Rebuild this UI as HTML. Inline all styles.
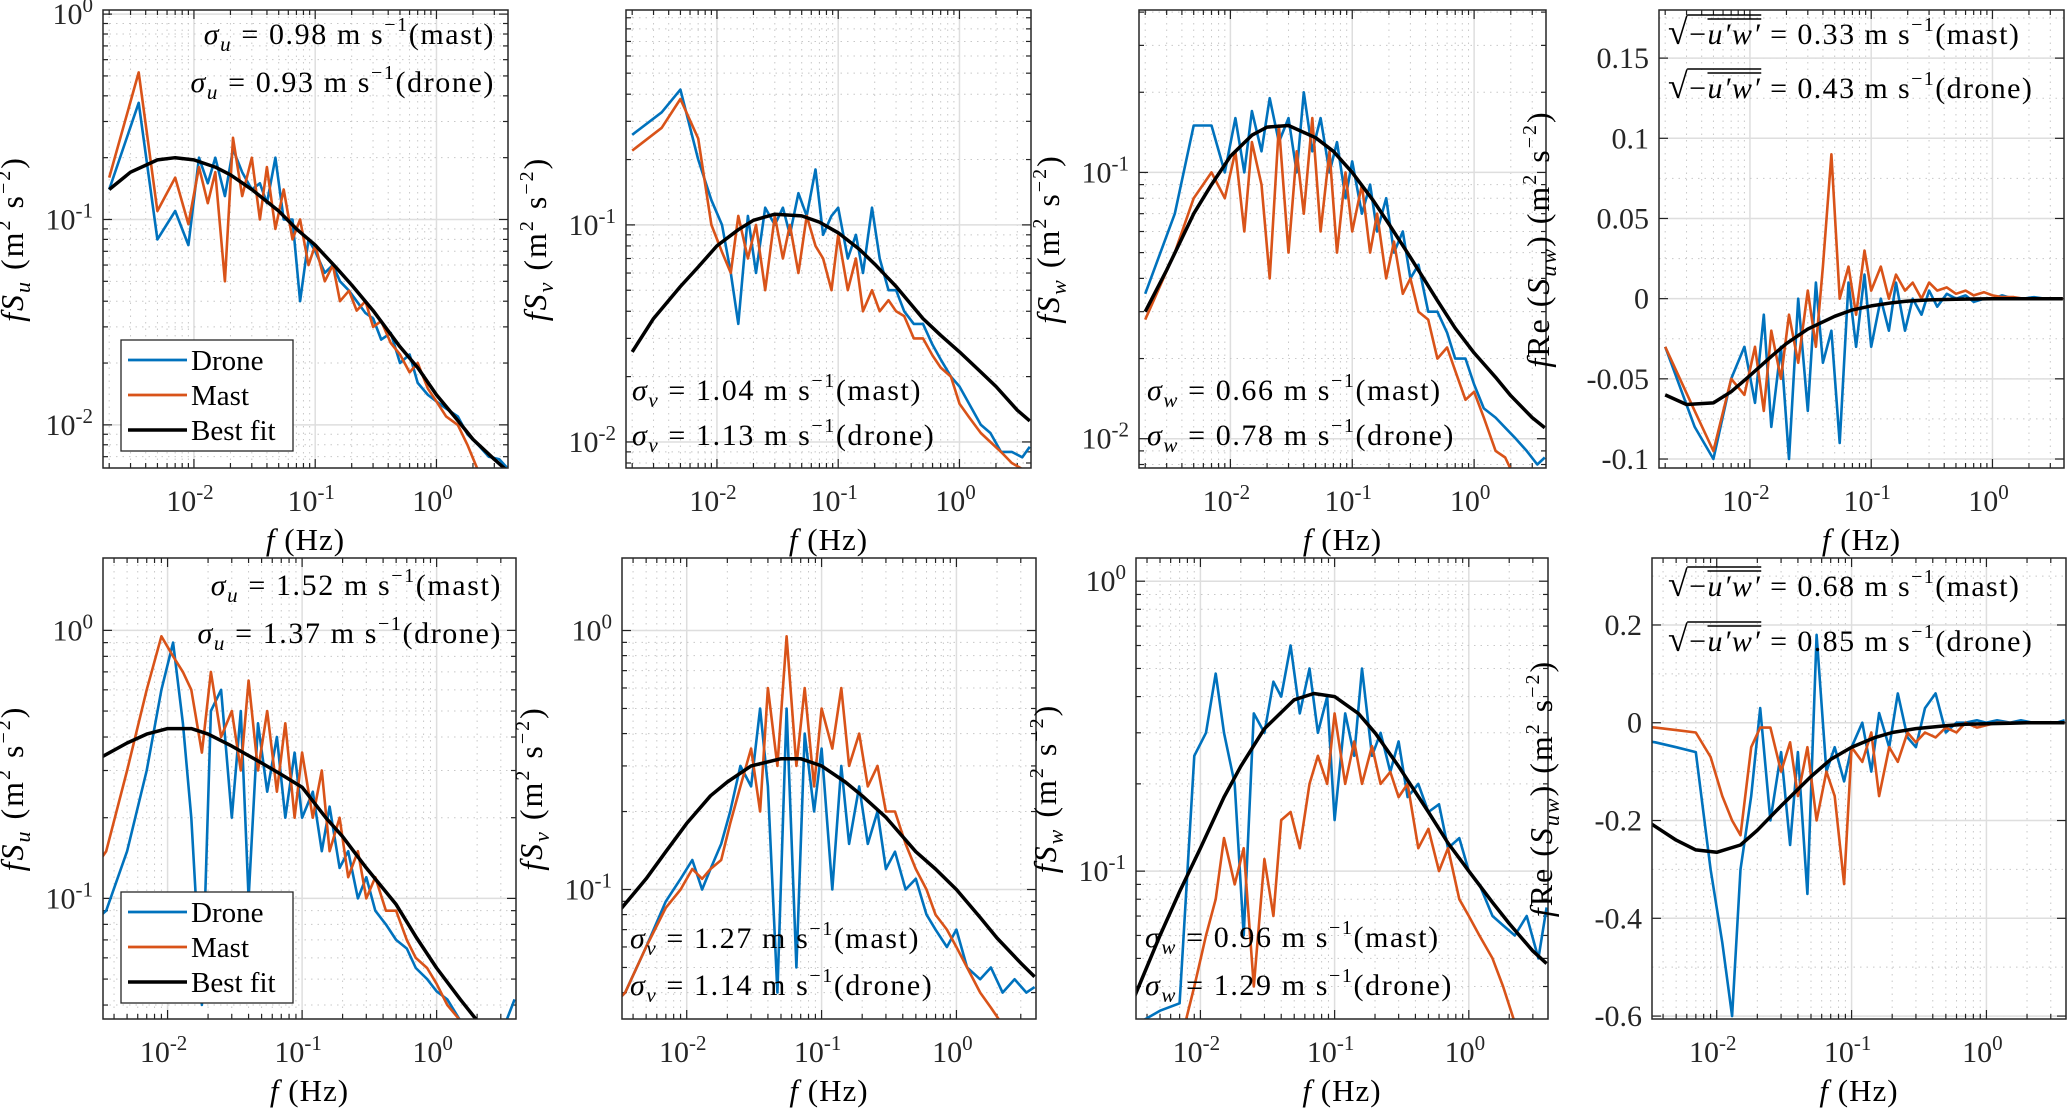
<!DOCTYPE html>
<html><head><meta charset="utf-8"><style>
html,body{margin:0;padding:0;background:#fff;}
svg{display:block;font-family:"Liberation Serif",serif;}
</style></head><body>
<svg id="fig" width="2067" height="1110" viewBox="0 0 2067 1110" xmlns="http://www.w3.org/2000/svg"></svg>
<script>
// ---------- data ----------
const freq = [0.002,0.0035,0.005,0.007,0.009,0.011,0.013,0.015,0.018,0.021,0.025,0.03,0.035,0.04,0.047,0.055,0.065,0.075,0.088,0.1,0.12,0.14,0.16,0.19,0.22,0.26,0.3,0.35,0.42,0.5,0.6,0.7,0.85,1.0,1.2,1.5,1.8,2.2,2.7,3.3,3.8];
const fitFreq = [0.002,0.003,0.005,0.007,0.01,0.015,0.02,0.03,0.05,0.07,0.1,0.15,0.2,0.3,0.5,0.7,1,1.5,2,3,3.8];

const u1Drone = [0.14,0.37,0.08,0.11,0.075,0.2,0.15,0.2,0.13,0.22,0.17,0.14,0.15,0.12,0.2,0.1,0.1,0.04,0.08,0.07,0.055,0.06,0.05,0.045,0.04,0.035,0.033,0.026,0.028,0.02,0.022,0.016,0.014,0.013,0.012,0.011,0.009,0.008,0.007,0.0068,0.0062];
const u1Mast  = [0.16,0.52,0.11,0.16,0.095,0.18,0.12,0.17,0.05,0.25,0.13,0.2,0.1,0.18,0.09,0.14,0.08,0.1,0.06,0.075,0.05,0.06,0.04,0.045,0.036,0.04,0.03,0.032,0.025,0.022,0.018,0.02,0.015,0.013,0.011,0.01,0.008,0.006,0.005,0.005,0.005];
const u1Fit   = [0.14,0.17,0.195,0.2,0.195,0.18,0.165,0.14,0.11,0.09,0.075,0.058,0.048,0.036,0.024,0.019,0.014,0.0105,0.0085,0.0068,0.006];

const v1Drone = [0.26,0.33,0.42,0.2,0.13,0.1,0.06,0.035,0.11,0.06,0.12,0.1,0.12,0.09,0.14,0.11,0.18,0.09,0.11,0.12,0.07,0.09,0.06,0.12,0.07,0.05,0.05,0.04,0.035,0.035,0.028,0.024,0.02,0.018,0.015,0.012,0.011,0.009,0.009,0.0085,0.0095];
const v1Mast  = [0.22,0.28,0.38,0.25,0.1,0.075,0.06,0.11,0.07,0.1,0.05,0.11,0.07,0.1,0.06,0.11,0.08,0.07,0.05,0.09,0.05,0.07,0.04,0.05,0.04,0.045,0.04,0.038,0.03,0.03,0.025,0.022,0.02,0.015,0.013,0.011,0.01,0.009,0.008,0.0075,0.007];
const v1Fit   = [0.026,0.037,0.052,0.064,0.08,0.095,0.105,0.112,0.11,0.103,0.092,0.077,0.066,0.052,0.037,0.031,0.026,0.021,0.018,0.014,0.0125];

const w1Drone = [0.035,0.07,0.15,0.15,0.1,0.16,0.1,0.17,0.12,0.19,0.13,0.16,0.1,0.2,0.12,0.16,0.1,0.13,0.08,0.11,0.07,0.09,0.06,0.08,0.05,0.06,0.04,0.045,0.03,0.03,0.025,0.02,0.02,0.016,0.013,0.012,0.011,0.01,0.009,0.008,0.0085];
const w1Mast  = [0.028,0.05,0.08,0.1,0.08,0.12,0.06,0.13,0.09,0.04,0.15,0.05,0.12,0.07,0.16,0.06,0.12,0.05,0.1,0.06,0.09,0.05,0.07,0.04,0.055,0.035,0.04,0.03,0.028,0.02,0.022,0.018,0.014,0.015,0.012,0.009,0.0085,0.007,0.006,0.006,0.006];
const w1Fit   = [0.03,0.043,0.07,0.09,0.115,0.138,0.148,0.15,0.135,0.12,0.1,0.078,0.064,0.048,0.033,0.026,0.021,0.017,0.0145,0.012,0.011];

const c1Drone = [-0.03,-0.08,-0.1,-0.05,-0.03,-0.065,-0.01,-0.08,-0.03,-0.1,0,-0.07,0.01,-0.04,-0.02,-0.09,0.01,-0.03,0.015,-0.03,0.0,-0.02,0.01,-0.02,0,-0.01,0.005,-0.005,0.003,0,0.002,-0.002,0,0,0.002,0,0,0.001,0,0,0];
const c1Mast  = [-0.03,-0.07,-0.095,-0.05,-0.06,-0.03,-0.07,-0.02,-0.05,-0.01,-0.04,0.005,-0.03,0.02,0.09,0.0,0.02,-0.01,0.03,0.005,0.02,0.0,0.015,0.005,0.01,0.0,0.01,0.005,0.007,0.003,0.005,0.002,0.004,0.002,0.001,0.001,0,0,0,0,0];
const c1Fit   = [-0.06,-0.066,-0.065,-0.058,-0.048,-0.036,-0.028,-0.019,-0.011,-0.007,-0.0045,-0.0025,-0.0015,-0.0008,-0.0004,-0.0002,-0.0001,0,0,0,0];

const u2Drone = [0.07,0.09,0.15,0.3,0.6,0.9,0.45,0.2,0.04,0.5,0.6,0.2,0.5,0.1,0.45,0.25,0.4,0.2,0.35,0.2,0.25,0.15,0.22,0.13,0.15,0.1,0.12,0.09,0.08,0.07,0.065,0.055,0.05,0.045,0.042,0.035,0.03,0.033,0.03,0.035,0.042];
const u2Mast  = [0.1,0.15,0.3,0.6,0.95,0.8,0.7,0.6,0.35,0.7,0.4,0.5,0.3,0.65,0.3,0.5,0.25,0.45,0.2,0.35,0.2,0.3,0.15,0.2,0.12,0.15,0.1,0.12,0.09,0.09,0.07,0.06,0.055,0.048,0.04,0.035,0.03,0.028,0.025,0.025,0.025];
const u2Fit   = [0.28,0.33,0.38,0.41,0.43,0.43,0.41,0.37,0.32,0.29,0.26,0.2,0.17,0.13,0.095,0.072,0.055,0.042,0.035,0.028,0.025];

const v2Drone = [0.03,0.04,0.06,0.09,0.11,0.13,0.1,0.12,0.15,0.2,0.3,0.25,0.5,0.25,0.04,0.5,0.05,0.4,0.2,0.35,0.1,0.3,0.15,0.25,0.15,0.2,0.12,0.14,0.1,0.11,0.08,0.07,0.06,0.07,0.05,0.045,0.05,0.04,0.045,0.04,0.042];
const v2Mast  = [0.03,0.04,0.06,0.085,0.1,0.12,0.11,0.12,0.13,0.18,0.25,0.35,0.2,0.6,0.3,0.95,0.3,0.6,0.25,0.5,0.35,0.6,0.3,0.4,0.25,0.3,0.2,0.2,0.15,0.12,0.1,0.08,0.07,0.06,0.05,0.04,0.035,0.03,0.028,0.026,0.025];
const v2Fit   = [0.06,0.08,0.11,0.14,0.18,0.23,0.26,0.3,0.32,0.32,0.3,0.26,0.23,0.19,0.14,0.12,0.1,0.078,0.065,0.052,0.046];

const w2Drone = [0.028,0.03,0.033,0.035,0.25,0.3,0.48,0.3,0.2,0.06,0.35,0.3,0.45,0.4,0.6,0.35,0.5,0.3,0.4,0.15,0.35,0.25,0.5,0.25,0.3,0.22,0.28,0.18,0.2,0.16,0.17,0.12,0.13,0.1,0.09,0.07,0.065,0.06,0.07,0.05,0.075];
const w2Mast  = [0.01,0.015,0.02,0.025,0.04,0.06,0.08,0.13,0.09,0.12,0.04,0.11,0.07,0.15,0.16,0.12,0.2,0.25,0.2,0.35,0.2,0.28,0.2,0.27,0.2,0.22,0.18,0.2,0.12,0.14,0.1,0.12,0.08,0.07,0.06,0.05,0.04,0.03,0.02,0.02,0.02];
const w2Fit   = [0.022,0.034,0.06,0.085,0.12,0.18,0.23,0.31,0.39,0.41,0.4,0.35,0.3,0.23,0.16,0.125,0.1,0.078,0.066,0.053,0.048];

const c2Drone = [-0.03,-0.04,-0.05,-0.06,-0.3,-0.45,-0.6,-0.3,-0.15,0.03,-0.2,-0.06,-0.25,-0.06,-0.35,0.18,-0.1,-0.05,-0.12,-0.05,0.0,-0.1,0.02,-0.05,0.06,-0.03,-0.05,0.03,0.06,-0.02,0.0,0.0,0.005,0.0,0.005,0,0.005,0,0,0,0.005];
const c2Mast  = [-0.005,-0.01,-0.015,-0.02,-0.07,-0.15,-0.2,-0.23,-0.05,-0.01,-0.01,-0.1,-0.04,-0.15,-0.05,-0.2,-0.1,-0.15,-0.33,-0.05,-0.08,-0.02,-0.15,-0.05,-0.08,-0.02,-0.04,-0.02,-0.03,-0.01,-0.02,0,-0.01,-0.005,0,0,0,0,0,0,0];
const c2Fit   = [-0.18,-0.2,-0.24,-0.26,-0.265,-0.25,-0.22,-0.17,-0.11,-0.075,-0.05,-0.03,-0.02,-0.012,-0.006,-0.003,-0.002,-0.001,0,0,0];

const xTickExp = [-2,-1,0];
const logYTicksTop = [[0,-1,-2],[-1,-2],[-1,-2],null];
const linTicksTop4 = [-0.1,-0.05,0,0.05,0.1,0.15];
const linLabelsTop4 = ["-0.1","-0.05","0","0.05","0.1","0.15"];
const linTicksBot4 = [-0.6,-0.4,-0.2,0,0.2];
const linLabelsBot4 = ["-0.6","-0.4","-0.2","0","0.2"];

// ---------- drawing ----------
const NS="http://www.w3.org/2000/svg";
const svg=document.getElementById('fig');
function el(tag,attrs,parent){const e=document.createElementNS(NS,tag);for(const k in attrs)e.setAttribute(k,attrs[k]);(parent||svg).appendChild(e);return e;}
const BLUE="#0072BD", RED="#D95319";
let clipId=0;

function panel(cfg){
  const g=el('g',{});
  
  
  const {x0,x1,y0,y1,xl,yr,ylog}=cfg;
  const X=f=>x0+(Math.log10(f)-xl[0])/(xl[1]-xl[0])*(x1-x0);
  const Y=v=>{const t=ylog?Math.log10(v):v;return y1-(t-yr[0])/(yr[1]-yr[0])*(y1-y0);};
  const grid=el('g',{},g);
  
  
  for(let d=Math.floor(xl[0]);d<=Math.ceil(xl[1]);d++){
    for(let m=1;m<=9;m++){
      const lv=Math.log10(m)+d; if(lv<=xl[0]||lv>=xl[1])continue;
      const x=X(Math.pow(10,lv));
      if(m===1) el('line',{x1:x,x2:x,y1:y0,y2:y1,stroke:'#dedede','stroke-width':1.5},grid);
      else el('line',{x1:x,x2:x,y1:y0,y2:y1,stroke:'#c8c8c8','stroke-width':1,'stroke-dasharray':'1.5 5'},grid);
      const tl=m===1?9:5;
      el('line',{x1:x,x2:x,y1:y1,y2:y1-tl,stroke:'#222','stroke-width':1.2},g);
      el('line',{x1:x,x2:x,y1:y0,y2:y0+tl,stroke:'#222','stroke-width':1.2},g);
    }
  }
  if(ylog){
    for(let d=Math.floor(yr[0]);d<=Math.ceil(yr[1]);d++){
      for(let m=1;m<=9;m++){
        const lv=Math.log10(m)+d; if(lv<=yr[0]||lv>=yr[1])continue;
        const y=Y(Math.pow(10,lv));
        if(m===1) el('line',{x1:x0,x2:x1,y1:y,y2:y,stroke:'#dedede','stroke-width':1.5},grid);
        else el('line',{x1:x0,x2:x1,y1:y,y2:y,stroke:'#c8c8c8','stroke-width':1,'stroke-dasharray':'1.5 5'},grid);
        const tl=m===1?9:5;
        el('line',{x1:x0,x2:x0+tl,y1:y,y2:y,stroke:'#222','stroke-width':1.2},g);
        el('line',{x1:x1,x2:x1-tl,y1:y,y2:y,stroke:'#222','stroke-width':1.2},g);
      }
    }
    cfg.yt.forEach(e=>{
      const y=Y(Math.pow(10,e));
      const t=el('text',{x:x0-10,y:y+10,'text-anchor':'end','font-size':30,fill:'#262626'},g);
      
      
      t.appendChild(document.createTextNode('10'));
      const s=el('tspan',{dy:-12,'font-size':21},t); s.textContent=String(e);
    });
  } else {
    const step=(cfg.lt[1]-cfg.lt[0])/2;
    for(let v=cfg.lt[0]-step;v<yr[1];v+=step){
      if(v<=yr[0])continue;
      const y=Y(v);
      el('line',{x1:x0,x2:x1,y1:y,y2:y,stroke:'#c8c8c8','stroke-width':1,'stroke-dasharray':'1.5 5'},grid);
    }
    cfg.lt.forEach((v,i)=>{
      const y=Y(v);
      el('line',{x1:x0,x2:x1,y1:y,y2:y,stroke:'#dedede','stroke-width':1.5},grid);
      el('line',{x1:x0,x2:x0+9,y1:y,y2:y,stroke:'#222','stroke-width':1.2},g);
      el('line',{x1:x1,x2:x1-9,y1:y,y2:y,stroke:'#222','stroke-width':1.2},g);
      const t=el('text',{x:x0-10,y:y+10,'text-anchor':'end','font-size':30,fill:'#262626'},g);
      
      
      t.textContent=cfg.ll[i];
    });
  }
  xTickExp.forEach(e=>{
    const x=X(Math.pow(10,e));
    const t=el('text',{x:x-4,y:y1+43,'text-anchor':'middle','font-size':30,fill:'#262626'},g);
    
    
    t.appendChild(document.createTextNode('10'));
    const s=el('tspan',{dy:-12,'font-size':21},t); s.textContent=String(e);
  });
  const cid='clip'+(clipId++);
  const cp=el('clipPath',{id:cid},g); el('rect',{x:x0,y:y0,width:x1-x0,height:y1-y0},cp);
  const sg=el('g',{'clip-path':'url(#'+cid+')'},g);
  const line=(fs,vals,col,w,name)=>{
    const pts=[];
    fs.forEach((f,i)=>{let v=vals[i]; if(ylog&&v<=0)v=1e-6; pts.push(X(f).toFixed(1)+','+Y(v).toFixed(1));});
    const p=el('polyline',{points:pts.join(' '),fill:'none',stroke:col,'stroke-width':w,'stroke-linejoin':'round'},sg);
    
    
  };
  line(freq,cfg.drone,BLUE,2.6,'drone-line');
  line(freq,cfg.mast,RED,2.6,'mast-line');
  line(fitFreq,cfg.fit,'#000',3.5,'best-fit-line');
  el('rect',{x:x0,y:y0,width:x1-x0,height:y1-y0,fill:'none',stroke:'#262626','stroke-width':1.5},g);
  const xlb=el('text',{x:(x0+x1)/2,y:y1+82,'text-anchor':'middle','font-size':31,fill:'#000','letter-spacing':1},g);
  
  
  xlb.innerHTML='<tspan font-style="italic">f</tspan>  (Hz)';
  const cy=(y0+y1)/2;
  const ylb=el('text',{x:0,y:0,'text-anchor':'middle','font-size':32,'letter-spacing':2,fill:'#000',transform:`translate(${x0-cfg.ylOff},${cy}) rotate(-90)`},g);
  
  
  ylb.innerHTML=cfg.ylabel;
  return {g,X,Y};
}

function sigmaText(g,x,y,anchor,sym,val,src){
  const t=el('text',{x:x,y:y,'text-anchor':anchor,'font-size':30,'letter-spacing':1.6,fill:'#000'},g);
  
  
  t.innerHTML=`<tspan font-style="italic">σ</tspan><tspan font-style="italic" font-size="21" dy="7">${sym}</tspan><tspan dy="-7"> = ${val} m s</tspan><tspan font-size="20" dy="-13">−1</tspan><tspan dy="13">(${src})</tspan>`;
}
function sqrtText(g,x,y,val,src){
  const t=el('text',{x:x,y:y,'text-anchor':'start','font-size':30,'letter-spacing':1.4,fill:'#000'},g);
  
  
  t.innerHTML=`<tspan font-size="36">√</tspan><tspan>−</tspan><tspan font-style="italic">u′w′</tspan><tspan> = ${val} m s</tspan><tspan font-size="20" dy="-13">−1</tspan><tspan dy="13">(${src})</tspan>`;
  let a=x+22,m=x+48,b=x+110;
  try{
    a=t.getStartPositionOfChar(1).x;
    m=t.getStartPositionOfChar(2).x;
    const e=t.getEndPositionOfChar(5).x; b=e;
  }catch(err){}
  el('line',{x1:a-2,x2:b,y1:y-29,y2:y-29,stroke:'#000','stroke-width':1.6},g);
  el('line',{x1:m,x2:b,y1:y-25,y2:y-25,stroke:'#000','stroke-width':1.4},g);
}
function legend(g,x,y){
  const lg=el('g',{},g);
  
  
  el('rect',{x:x,y:y,width:172,height:111,fill:'#fff',stroke:'#262626','stroke-width':1.3},lg);
  [['Drone',BLUE,2.8],['Mast',RED,2.8],['Best fit','#000',3.5]].forEach((it,i)=>{
    const yy=y+20+i*35;
    const e=el('g',{},lg);
    
    
    el('line',{x1:x+7,x2:x+66,y1:yy,y2:yy,stroke:it[1],'stroke-width':it[2]},e);
    const t=el('text',{x:x+70,y:yy+10,'font-size':29,fill:'#000'},e); t.textContent=it[0];
  });
}

const topX=[-2.75,0.59], botX=[-2.48,0.59];
const ylU='<tspan font-style="italic">fS</tspan><tspan font-style="italic" font-size="22" dy="7">u</tspan><tspan dy="-7">  (m</tspan><tspan font-size="20" dy="-13">2</tspan><tspan dy="13"> s</tspan><tspan font-size="20" dy="-13">−2</tspan><tspan dy="13">)</tspan>';
const ylV=ylU.replace('>u<','>v<'), ylW=ylU.replace('>u<','>w<');
const ylC='<tspan font-style="italic">f</tspan><tspan>Re</tspan><tspan> (</tspan><tspan font-style="italic">S</tspan><tspan font-style="italic" font-size="22" dy="7">uw</tspan><tspan dy="-7">)  (m</tspan><tspan font-size="20" dy="-13">2</tspan><tspan dy="13"> s</tspan><tspan font-size="20" dy="-13">−2</tspan><tspan dy="13">)</tspan>';

let p;
p=panel({name:'panel-u-top',x0:103,x1:508,y0:10,y1:468,xl:topX,yr:[-2.21,0.02],ylog:true,yt:logYTicksTop[0],drone:u1Drone,mast:u1Mast,fit:u1Fit,ylabel:ylU,ylOff:80});
sigmaText(p.g,495,44,'end','u','0.98','mast'); sigmaText(p.g,495,92,'end','u','0.93','drone'); legend(p.g,121,340);
p=panel({name:'panel-v-top',x0:626,x1:1031,y0:10,y1:468,xl:topX,yr:[-2.12,-0.01],ylog:true,yt:logYTicksTop[1],drone:v1Drone,mast:v1Mast,fit:v1Fit,ylabel:ylV,ylOff:80});
sigmaText(p.g,632,400,'start','v','1.04','mast'); sigmaText(p.g,632,445,'start','v','1.13','drone');
p=panel({name:'panel-w-top',x0:1139,x1:1546,y0:10,y1:468,xl:topX,yr:[-2.11,-0.39],ylog:true,yt:logYTicksTop[2],drone:w1Drone,mast:w1Mast,fit:w1Fit,ylabel:ylW,ylOff:80});
sigmaText(p.g,1147,400,'start','w','0.66','mast'); sigmaText(p.g,1147,445,'start','w','0.78','drone');
p=panel({name:'panel-uw-top',x0:1659,x1:2064,y0:10,y1:468,xl:topX,yr:[-0.1056,0.18],ylog:false,lt:linTicksTop4,ll:linLabelsTop4,drone:c1Drone,mast:c1Mast,fit:c1Fit,ylabel:ylC,ylOff:110});
sqrtText(p.g,1668,44,'0.33','mast'); sqrtText(p.g,1668,98,'0.43','drone');

p=panel({name:'panel-u-bottom',x0:103,x1:516,y0:558,y1:1019,xl:botX,yr:[-1.45,0.27],ylog:true,yt:[0,-1],drone:u2Drone,mast:u2Mast,fit:u2Fit,ylabel:ylU,ylOff:80});
sigmaText(p.g,502,595,'end','u','1.52','mast'); sigmaText(p.g,502,643,'end','u','1.37','drone'); legend(p.g,121,892);
p=panel({name:'panel-v-bottom',x0:622,x1:1036,y0:558,y1:1019,xl:botX,yr:[-1.5,0.28],ylog:true,yt:[0,-1],drone:v2Drone,mast:v2Mast,fit:v2Fit,ylabel:ylV,ylOff:80});
sigmaText(p.g,630,948,'start','v','1.27','mast'); sigmaText(p.g,630,995,'start','v','1.14','drone');
p=panel({name:'panel-w-bottom',x0:1136,x1:1548,y0:558,y1:1019,xl:botX,yr:[-1.51,0.08],ylog:true,yt:[0,-1],drone:w2Drone,mast:w2Mast,fit:w2Fit,ylabel:ylW,ylOff:80});
sigmaText(p.g,1145,947,'start','w','0.96','mast'); sigmaText(p.g,1145,995,'start','w','1.29','drone');
p=panel({name:'panel-uw-bottom',x0:1652,x1:2066,y0:558,y1:1019,xl:botX,yr:[-0.606,0.337],ylog:false,lt:linTicksBot4,ll:linLabelsBot4,drone:c2Drone,mast:c2Mast,fit:c2Fit,ylabel:ylC,ylOff:100});
sqrtText(p.g,1668,596,'0.68','mast'); sqrtText(p.g,1668,651,'0.85','drone');
</script>
</body></html>
